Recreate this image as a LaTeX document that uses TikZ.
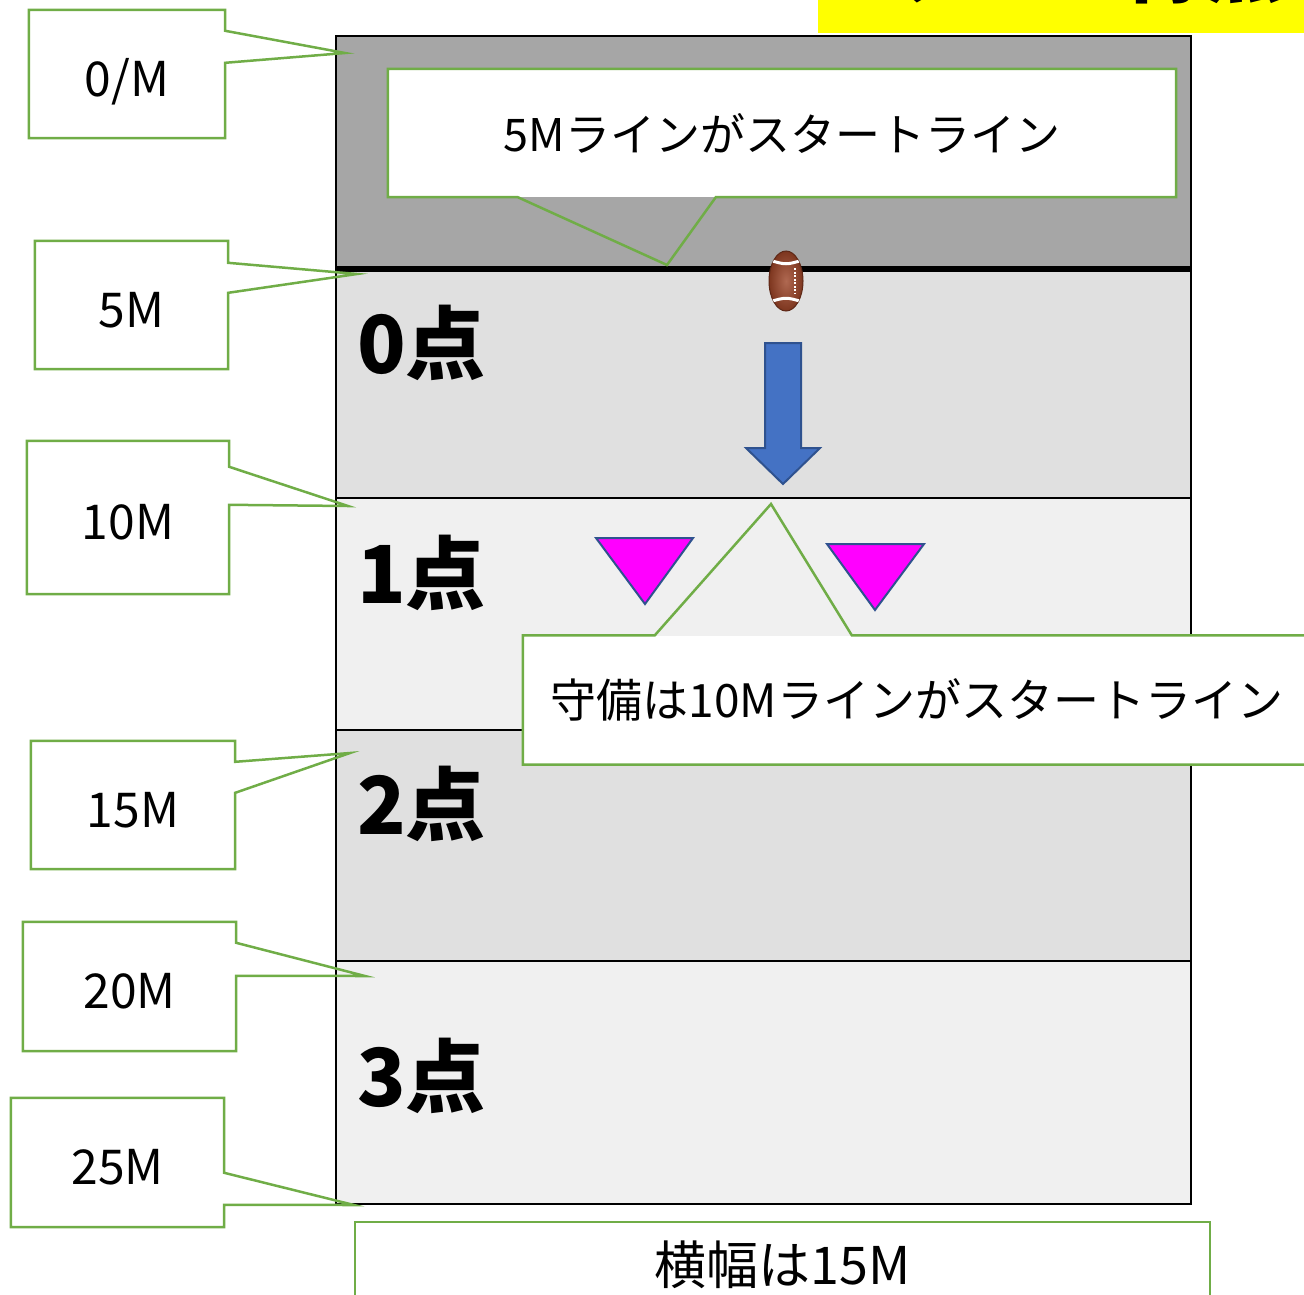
\documentclass[tikz,border=0pt]{standalone}
\usepackage{fontspec}
\setmainfont{Noto Sans CJK JP}
\usetikzlibrary{positioning, calc, shapes.geometric}

\definecolor{linegreen}{HTML}{70AD47}
\definecolor{bandgray}{HTML}{A6A6A6}
\definecolor{zonedark}{HTML}{E0E0E0}
\definecolor{zonelight}{HTML}{F0F0F0}
\definecolor{arrowblue}{HTML}{4472C4}
\definecolor{edgeblue}{HTML}{2F528F}
\definecolor{ballbrown}{HTML}{9C4326}
\definecolor{defmagenta}{HTML}{FF00FF}
\definecolor{titleyellow}{HTML}{FFFF00}

\begin{document}
\begin{tikzpicture}[
        x=1pt, y=-1pt,
        zone/.style = {
            draw=black,
            line width=2,
            rectangle,
            inner sep=0,
            minimum width=855,
            anchor=north west
        },
        zonelabel/.style = {
            anchor=base west,
            inner sep=0,
            font=\fontsize{80}{90}\selectfont\bfseries
        },
        callout/.style = {
            fill=white,
            rectangle,
            inner sep=0,
            font=\fontsize{48}{56}\selectfont
        },
        mlabel/.style = {
            callout,
            text height=44pt,
            text depth=0pt
        },
        calloutline/.style = {
            draw=linegreen,
            line width=2.5,
            line join=miter
        },
        marker/.style = {
            fill=defmagenta,
            draw=edgeblue,
            line width=2,
            line join=miter
        },
        ball/.style = {
            ellipse,
            inner sep=0,
            minimum width=34,
            minimum height=60,
            draw=ballbrown!60!black,
            line width=1,
            inner color=ballbrown!80!white,
            outer color=ballbrown!80!black
        }
    ]

    \useasboundingbox (0,0) rectangle (1304,1294);

    % field
    \node[zone, fill=bandgray, minimum height=232] (band) at (335,35) {};
    \node[zone, fill=zonedark, minimum height=230] (z0) at (335,267) {};
    \node[zone, fill=zonelight, minimum height=232] (z1) at (335,497) {};
    \node[zone, fill=zonedark, minimum height=231] (z2) at (335,729) {};
    \node[zone, fill=zonelight, minimum height=243] (z3) at (335,960) {};
    \draw[line width=6] (band.south west) -- (band.south east);

    \node[zonelabel] (p0) at (357,373) {0点};
    \node[zonelabel] (p1) at (357,603) {1点};
    \node[zonelabel] (p2) at (357,834) {2点};
    \node[zonelabel] (p3) at (357,1106) {3点};

    % ball and attack direction
    \node[ball] (ball) at (786,281) {};
    \begin{scope}
        \clip (ball.center) ellipse [x radius=17, y radius=30];
        \draw[white, line width=3] ($(ball.center)+(-17,-21)$) .. controls ($(ball.center)+(0,-16)$) .. ($(ball.center)+(17,-21)$);
        \draw[white, line width=3] ($(ball.center)+(-17,21)$) .. controls ($(ball.center)+(0,16)$) .. ($(ball.center)+(17,21)$);
    \end{scope}
    \draw[white, line width=1.5, dash pattern=on 2pt off 1.5pt] ($(ball.center)+(9,-13)$) -- ($(ball.center)+(9,13)$);

    \filldraw[fill=arrowblue, draw=edgeblue, line width=2, line join=miter]
        (765,343) -- (801,343) -- (801,448) -- (820,448) -- (783,484) -- (746,448) -- (765,448) -- cycle;

    % defenders
    \filldraw[marker] (596,538) -- (693,538) -- (645,604) -- cycle;
    \filldraw[marker] (827,544) -- (924,544) -- (875,610) -- cycle;

    % distance callouts
    \node[mlabel, minimum width=196, minimum height=128] (m0) at (127,74) {0/M};
    \coordinate (m0tip) at (345,53);
    \draw[calloutline] (m0.north west) -- (m0.north east) -- ($(m0.north east)+(0,21)$) -- (m0tip) -- ($(m0.north east)+(0,53)$) -- (m0.south east) -- (m0.south west) -- cycle;

    \node[mlabel, minimum width=193, minimum height=128] (m5) at (131.5,305) {5M};
    \coordinate (m5tip) at (357,274);
    \draw[calloutline] (m5.north west) -- (m5.north east) -- ($(m5.north east)+(0,22)$) -- (m5tip) -- ($(m5.north east)+(0,52)$) -- (m5.south east) -- (m5.south west) -- cycle;

    \node[mlabel, minimum width=202, minimum height=153] (m10) at (128,517.5) {10M};
    \coordinate (m10tip) at (348,506);
    \draw[calloutline] (m10.north west) -- (m10.north east) -- ($(m10.north east)+(0,26)$) -- (m10tip) -- ($(m10.north east)+(0,64)$) -- (m10.south east) -- (m10.south west) -- cycle;

    \node[mlabel, minimum width=204, minimum height=128] (m15) at (133,805) {15M};
    \coordinate (m15tip) at (350,753);
    \draw[calloutline] (m15.north west) -- (m15.north east) -- ($(m15.north east)+(0,21)$) -- (m15tip) -- ($(m15.north east)+(0,52)$) -- (m15.south east) -- (m15.south west) -- cycle;

    \node[mlabel, minimum width=213, minimum height=129] (m20) at (129.5,986.5) {20M};
    \coordinate (m20tip) at (365,976);
    \draw[calloutline] (m20.north west) -- (m20.north east) -- ($(m20.north east)+(0,21)$) -- (m20tip) -- ($(m20.north east)+(0,54)$) -- (m20.south east) -- (m20.south west) -- cycle;

    \node[mlabel, minimum width=213, minimum height=129] (m25) at (117.5,1162.5) {25M};
    \coordinate (m25tip) at (354,1205);
    \draw[calloutline] (m25.north west) -- (m25.north east) -- ($(m25.north east)+(0,75)$) -- (m25tip) -- ($(m25.north east)+(0,107)$) -- (m25.south east) -- (m25.south west) -- cycle;

    % start line callouts
    \node[callout, minimum width=788, minimum height=128, font=\fontsize{45}{53}\selectfont] (start) at (782,133) {5Mラインがスタートライン};
    \coordinate (starttip) at (667,265);
    \draw[calloutline] (start.north west) -- (start.north east) -- (start.south east) -- ($(start.south west)+(328,0)$) -- (starttip) -- ($(start.south west)+(130,0)$) -- (start.south west) -- cycle;

    \node[callout, minimum width=788, minimum height=129, font=\fontsize{46}{54}\selectfont] (defense) at (917,700) {守備は10Mラインがスタートライン};
    \coordinate (defensetip) at (771,504);
    \draw[calloutline] (defense.south west) -- (defense.north west) -- ($(defense.north west)+(132,0)$) -- (defensetip) -- ($(defense.north west)+(329,0)$) -- (defense.north east) -- (defense.south east) -- cycle;

    \node[callout, draw=linegreen, line width=2.5, minimum width=855, minimum height=86, font=\fontsize{52}{60}\selectfont] (width) at (782.5,1265) {横幅は15M};

    % title, cut at the top
    \fill[titleyellow] (818,-10) rectangle (1310,33);
    \node[anchor=base west, inner sep=0, font=\fontsize{80}{90}\selectfont\bfseries] (title) at (888,-4) {ゾーン得点};

\end{tikzpicture}
\end{document}
